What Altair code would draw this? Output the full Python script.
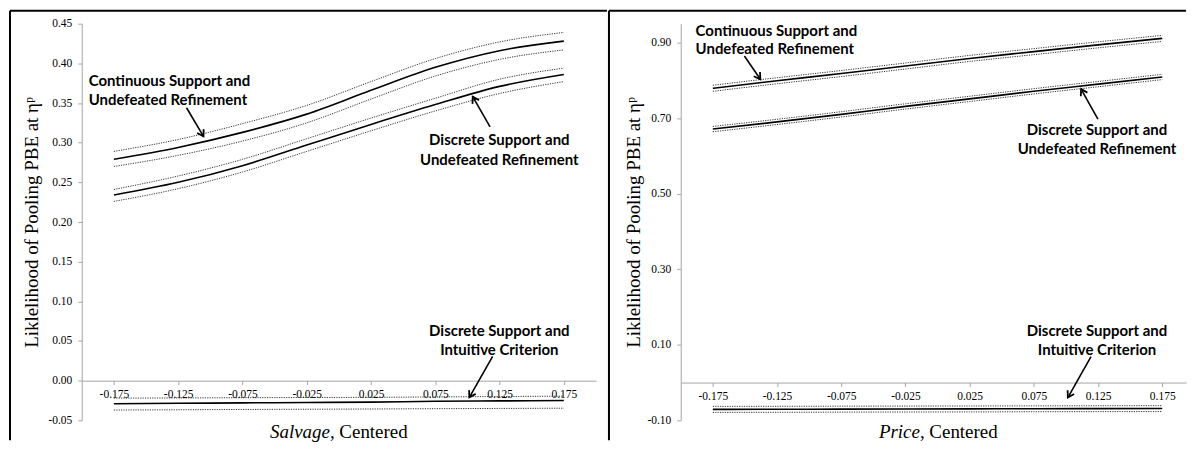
import math
import altair as alt
import pandas as pd

SERIF = "Liberation Serif"
SANS = "Lato"

# ---------------- data ----------------
X = [-0.175, -0.125, -0.075, -0.025, 0.025, 0.075, 0.125, 0.175]

# Left panel (Salvage)
L_CUR_MEAN = [0.279, 0.294, 0.313, 0.336, 0.366, 0.395, 0.416, 0.428]
L_CUR_LO = [0.270, 0.284, 0.302, 0.325, 0.355, 0.384, 0.405, 0.417]
L_CUR_HI = [0.289, 0.304, 0.324, 0.347, 0.377, 0.406, 0.427, 0.439]
L_DUR_MEAN = [0.234, 0.250, 0.271, 0.297, 0.323, 0.348, 0.371, 0.386]
L_DUR_LO = [0.226, 0.242, 0.263, 0.289, 0.315, 0.340, 0.362, 0.377]
L_DUR_HI = [0.241, 0.258, 0.279, 0.305, 0.331, 0.356, 0.380, 0.394]
L_DIC_MEAN = [-0.029, -0.0285, -0.028, -0.0275, -0.027, -0.026, -0.0255, -0.025]
L_DIC_LO = [-0.037, -0.0367, -0.0363, -0.036, -0.0357, -0.0353, -0.035, -0.0347]
L_DIC_HI = [-0.022, -0.0218, -0.0215, -0.0212, -0.021, -0.0205, -0.020, -0.0195]

# Right panel (Price)
R_CUR_MEAN = [0.779, 0.799, 0.818, 0.838, 0.858, 0.876, 0.894, 0.911]
R_CUR_LO = [0.771, 0.791, 0.810, 0.830, 0.850, 0.868, 0.886, 0.903]
R_CUR_HI = [0.787, 0.807, 0.826, 0.846, 0.866, 0.884, 0.902, 0.919]
R_DUR_MEAN = [0.671, 0.690, 0.710, 0.731, 0.751, 0.771, 0.790, 0.809]
R_DUR_LO = [0.664, 0.683, 0.703, 0.724, 0.744, 0.764, 0.783, 0.802]
R_DUR_HI = [0.678, 0.697, 0.717, 0.738, 0.758, 0.778, 0.797, 0.816]
R_DIC_MEAN = [-0.071, -0.0707, -0.0703, -0.070, -0.0697, -0.0693, -0.069, -0.0687]
R_DIC_LO = [-0.079, -0.0787, -0.0783, -0.078, -0.0777, -0.0773, -0.077, -0.0767]
R_DIC_HI = [-0.063, -0.0628, -0.0625, -0.0622, -0.062, -0.0617, -0.0614, -0.0611]

L_YTICKS = [-0.05, 0.0, 0.05, 0.10, 0.15, 0.20, 0.25, 0.30, 0.35, 0.40, 0.45]
R_YTICKS = [-0.10, 0.10, 0.30, 0.50, 0.70, 0.90]

# annotations: text, x, y, align
L_TEXT = [
    ("Continuous Support and", -0.1946, 0.378, "left"),
    ("Undefeated Refinement", -0.1946, 0.354, "left"),
    ("Discrete Support and", 0.1248, 0.3028, "center"),
    ("Undefeated Refinement", 0.1248, 0.2785, "center"),
    ("Discrete Support and", 0.1248, 0.0628, "center"),
    ("Intuitive Criterion", 0.1248, 0.0389, "center"),
]
R_TEXT = [
    ("Continuous Support and", -0.1884, 0.9306, "left"),
    ("Undefeated Refinement", -0.1884, 0.8823, "left"),
    ("Discrete Support and", 0.1242, 0.6686, "center"),
    ("Undefeated Refinement", 0.1242, 0.618, "center"),
    ("Discrete Support and", 0.1242, 0.1364, "center"),
    ("Intuitive Criterion", 0.1242, 0.0863, "center"),
]
# arrows: tail x, tail y, head x, head y
L_ARROWS = [
    (-0.1185, 0.344, -0.1053, 0.308),
    (0.1176, 0.320, 0.1041, 0.358),
    (0.1196, 0.0305, 0.1015, -0.021),
]
R_ARROWS = [
    (-0.1504, 0.8646, -0.138, 0.803),
    (0.1249, 0.6976, 0.1118, 0.7768),
    (0.1195, 0.0686, 0.1015, -0.0396),
]

Y_TITLE = "Liklelihood of Pooling PBE at \u03b7\u1d56"
MINUS = "\u2212"


def series_df(cur, dur, dic):
    rows = []
    for name, (m, lo, hi) in {"CUR": cur, "DUR": dur, "DIC": dic}.items():
        for kind, vals in (("mean", m), ("lo", lo), ("hi", hi)):
            for xv, yv in zip(X, vals):
                rows.append({"x": xv, "y": yv, "line": name + "_" + kind, "kind": kind})
    return pd.DataFrame(rows)


def frame(x1, x2, y1, y2):
    return alt.Chart(pd.DataFrame({"a": [0]})).mark_rule(
        color="black", strokeWidth=2).encode(
        x=alt.value(x1), x2=alt.value(x2), y=alt.value(y1), y2=alt.value(y2))


def panel(df, xdom, ydom, yticks, width, height, title_x, var_name, split_x,
          texts, arrows, frames):
    off = height * (0 - ydom[0]) / (ydom[1] - ydom[0])
    xs = alt.Scale(domain=xdom, nice=False, zero=False)
    ys = alt.Scale(domain=ydom, nice=False, zero=False)
    ax_col = "#a6a6a6"

    base = alt.Chart(df)
    mean = base.transform_filter(alt.datum.kind == "mean").mark_line(
        color="black", strokeWidth=1.6, interpolate="monotone"
    ).encode(
        x=alt.X("x:Q", scale=xs, axis=alt.Axis(
            values=X, tickCount=len(X) + 5, title=None, offset=-off, grid=False,
            labelExpr=f"replace(format(datum.value, '.3f'), '{MINUS}', '-')",
            labelFont=SERIF, labelFontSize=11.5, labelColor="black",
            labelPadding=4, tickSize=4, domainColor=ax_col, tickColor=ax_col,
            labelFlush=False, labelOverlap=False)),
        y=alt.Y("y:Q", scale=ys, axis=alt.Axis(
            values=yticks, tickCount=len(yticks) + 5, title=Y_TITLE, grid=False,
            labelExpr=f"replace(format(datum.value, '.2f'), '{MINUS}', '-')",
            labelFont=SERIF, labelFontSize=11.5, labelColor="black",
            labelPadding=6, tickSize=4, domainColor=ax_col, tickColor=ax_col,
            labelOverlap=False, labelFlush=False,
            titleFont=SERIF, titleFontSize=19, titleFontWeight="normal",
            titleColor="black", titleX=title_x)),
        detail="line:N",
    )
    bands = base.transform_filter(alt.datum.kind != "mean").mark_line(
        color="#333333", strokeWidth=1, strokeDash=[1.2, 1.2], interpolate="monotone"
    ).encode(x="x:Q", y="y:Q", detail="line:N")

    tdf = pd.DataFrame([{"t": t, "x": a, "y": b, "al": al} for t, a, b, al in texts])
    txt_l = alt.Chart(tdf).transform_filter(alt.datum.al == "left").mark_text(
        font=SANS, fontWeight="bold", fontSize=15, align="left", baseline="middle",
        color="black").encode(x="x:Q", y="y:Q", text="t:N")
    txt_c = alt.Chart(tdf).transform_filter(alt.datum.al == "center").mark_text(
        font=SANS, fontWeight="bold", fontSize=15, align="center", baseline="middle",
        color="black").encode(x="x:Q", y="y:Q", text="t:N")

    kx = width / (xdom[1] - xdom[0])
    ky = height / (ydom[1] - ydom[0])
    arows, hrows = [], []
    for tx, ty, hx, hy in arrows:
        arows.append({"x": tx, "y": ty, "x2": hx, "y2": hy})
        dxp = (hx - tx) * kx
        dyp = -(hy - ty) * ky
        ang = math.degrees(math.atan2(dxp, -dyp)) % 360
        hrows.append({"x": hx, "y": hy, "ang": ang})
    adf = pd.DataFrame(arows)
    hdf = pd.DataFrame(hrows)
    shafts = alt.Chart(adf).mark_rule(color="black", strokeWidth=1.6).encode(
        x="x:Q", y="y:Q", x2="x2:Q", y2="y2:Q")
    heads = alt.Chart(hdf).mark_point(
        shape="M-0.8,1.3L0,0L0.8,1.3", filled=False, color="black",
        strokeWidth=1.8, size=90, opacity=1
    ).encode(x="x:Q", y="y:Q", angle=alt.Angle("ang:Q", scale=None))

    # x-axis title, with the variable name in italics
    xt1 = alt.Chart(pd.DataFrame({"t": [var_name]})).mark_text(
        font=SERIF, fontSize=19, fontStyle="italic", align="right",
        baseline="middle", color="black"
    ).encode(x=alt.value(split_x), y=alt.value(height + 12), text="t:N")
    xt2 = alt.Chart(pd.DataFrame({"t": [", Centered"]})).mark_text(
        font=SERIF, fontSize=19, align="left", baseline="middle", color="black"
    ).encode(x=alt.value(split_x), y=alt.value(height + 12), text="t:N")

    fr = [frame(*f) for f in frames]
    return alt.layer(mean, bands, shafts, heads, txt_l, txt_c, xt1, xt2, *fr).properties(
        width=width, height=height)


W_L, W_R, H = 516, 507, 398

left = panel(series_df((L_CUR_MEAN, L_CUR_LO, L_CUR_HI),
                       (L_DUR_MEAN, L_DUR_LO, L_DUR_HI),
                       (L_DIC_MEAN, L_DIC_LO, L_DIC_HI)),
             [-0.2, 0.2], [-0.05, 0.45], L_YTICKS, W_L, H, -40, "Salvage", 249,
             L_TEXT, L_ARROWS, [(-72, -72, -13, 418), (-72, 527, -13, -13)])

right = panel(series_df((R_CUR_MEAN, R_CUR_LO, R_CUR_HI),
                        (R_DUR_MEAN, R_DUR_LO, R_DUR_HI),
                        (R_DIC_MEAN, R_DIC_LO, R_DIC_HI)),
              [-0.2, 0.1935], [-0.10, 0.95], R_YTICKS, W_R, H, -37, "Price", 240,
              R_TEXT, R_ARROWS, [(-72, -72, -13, 418), (-72, W_R, -13, -13)])

chart = alt.hconcat(left, right, spacing=0).properties(
    padding={"left": 1, "top": 1, "right": 0, "bottom": 0}
).configure_view(stroke=None).configure_axis(
    labelFont=SERIF, titleFont=SERIF, labelOverlap=False
)

chart.save("out.html", embed_options={"renderer": "svg", "actions": False})
